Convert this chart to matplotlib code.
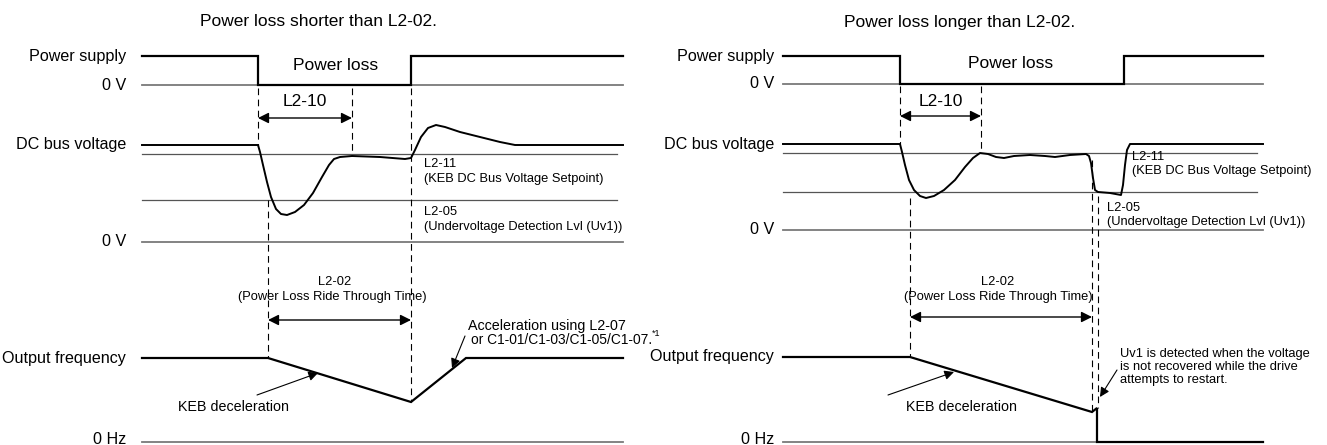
import matplotlib.pyplot as plt

plt.rcParams['font.family'] = ['Liberation Sans', 'DejaVu Sans']

# ---- left panel: power loss shorter than L2-02 (pixel coords) ----
L_supply_x = [142, 258, 258, 411, 411, 623]
L_supply_y = [56, 56, 85, 85, 56, 56]
L_dc_x = [142, 258, 260, 263, 267, 271, 276, 281, 287, 295, 304, 313, 322, 329, 334, 340, 352,
          380, 405, 411, 415, 421, 428, 436, 445, 460, 480, 500, 515, 525, 623]
L_dc_y = [145, 145, 152, 165, 182, 197, 209, 214, 215, 212, 205, 193, 177, 165, 159, 157, 156,
          157, 159, 158, 150, 137, 128, 125, 127, 132, 137, 142, 145, 145, 145]
L_freq_x = [142, 268, 411, 466, 623]
L_freq_y = [358, 358, 402, 358, 358]
L_levels = {'zero_v': 85, 'setpoint': 154, 'uv': 200, 'dc_zero': 242, 'hz0': 442}
L_dashes = [(258, 88, 146), (268, 200, 358), (352, 88, 155), (411, 88, 402)]

# ---- right panel: power loss longer than L2-02 ----
R_supply_x = [783, 900, 900, 1124, 1124, 1263]
R_supply_y = [56, 56, 84, 84, 56, 56]
R_dc_x = [783, 900, 902, 905, 909, 914, 920, 926, 934, 944, 955, 965, 973, 980, 988, 996, 1004,
          1014, 1030, 1045, 1055, 1070, 1086, 1089, 1091, 1093, 1095, 1098, 1110, 1121, 1123,
          1125, 1127, 1130, 1263]
R_dc_y = [144, 144, 152, 165, 180, 190, 196, 198, 196, 190, 180, 167, 158, 153, 154, 157, 158,
          156, 155, 156, 157, 155, 154, 156, 163, 178, 190, 192, 193, 195, 185,
          165, 150, 144, 144]
R_freq_x = [783, 910, 1092, 1097, 1097, 1263]
R_freq_y = [357, 357, 412, 408, 442, 442]
R_levels = {'zero_v': 84, 'setpoint': 153, 'uv': 192, 'dc_zero': 230, 'hz0': 442}
R_dashes = [(900, 86, 144), (910, 198, 357), (981, 86, 153), (1092, 160, 412), (1098, 196, 408)]

fig = plt.figure(figsize=(13.27, 4.45), dpi=100)
ax = fig.add_axes([0, 0, 1, 1])
ax.set_xlim(0, 1327)
ax.set_ylim(445, 0)
ax.axis('off')

HEAD = 12.5
BIG = 11.6
MID = 10.3
SMALL = 9.3
grey = '#7a7a7a'


def darrow(x0, x1, y):
    ax.annotate('', xy=(x1, y), xytext=(x0, y),
                arrowprops=dict(arrowstyle='<|-|>', color='k', lw=1.0, mutation_scale=16,
                                shrinkA=0, shrinkB=0))


def pointer(tail, tip):
    ax.annotate('', xy=tip, xytext=tail,
                arrowprops=dict(arrowstyle='-|>', color='k', lw=0.8, mutation_scale=14,
                                shrinkA=0, shrinkB=0))


def panel(x0, x1, lab_r, sup_x, sup_y, dc_x, dc_y, fr_x, fr_y, lv, dashes):
    # baselines
    for key in ['zero_v', 'dc_zero', 'hz0']:
        ax.plot([x0, x1], [lv[key], lv[key]], color=grey, lw=1.3)
    for key in ['setpoint', 'uv']:
        ax.plot([x0, x1 - 6], [lv[key], lv[key]], color='#555555', lw=0.9)
    # signals
    ax.plot(sup_x, sup_y, color='k', lw=1.6, solid_joinstyle='miter')
    ax.plot(dc_x, dc_y, color='k', lw=1.4, solid_joinstyle='round')
    ax.plot(fr_x, fr_y, color='k', lw=1.6, solid_joinstyle='miter')
    for x, ya, yb in dashes:
        ax.plot([x, x], [ya, yb], color='k', lw=0.8, linestyle=(0, (6, 4)))
    # left labels
    ax.text(lab_r, sup_y[0], 'Power supply', ha='right', va='center', fontsize=BIG)
    ax.text(lab_r, lv['zero_v'], '0 V', ha='right', va='center', fontsize=BIG)
    ax.text(lab_r, dc_y[0], 'DC bus voltage', ha='right', va='center', fontsize=BIG)
    ax.text(lab_r, lv['dc_zero'], '0 V', ha='right', va='center', fontsize=BIG)
    ax.text(lab_r, fr_y[0], 'Output frequency', ha='right', va='center', fontsize=BIG)
    ax.text(lab_r, lv['hz0'] - 3, '0 Hz', ha='right', va='center', fontsize=BIG)


panel(142, 623, 126, L_supply_x, L_supply_y, L_dc_x, L_dc_y, L_freq_x, L_freq_y, L_levels, L_dashes)
panel(783, 1263, 774, R_supply_x, R_supply_y, R_dc_x, R_dc_y, R_freq_x, R_freq_y, R_levels, R_dashes)

# left annotations
ax.text(319, 22, 'Power loss shorter than L2-02.', ha='center', va='center', fontsize=HEAD)
ax.text(336, 65, 'Power loss', ha='center', va='center', fontsize=HEAD)
ax.text(305, 102, 'L2-10', ha='center', va='center', fontsize=HEAD)
darrow(258, 352, 118)
ax.text(424, 164, 'L2-11', ha='left', va='center', fontsize=SMALL)
ax.text(424, 179, '(KEB DC Bus Voltage Setpoint)', ha='left', va='center', fontsize=SMALL)
ax.text(424, 212, 'L2-05', ha='left', va='center', fontsize=SMALL)
ax.text(424, 227, '(Undervoltage Detection Lvl (Uv1))', ha='left', va='center', fontsize=SMALL)
ax.text(335, 282, 'L2-02', ha='center', va='center', fontsize=SMALL)
ax.text(332, 297, '(Power Loss Ride Through Time)', ha='center', va='center', fontsize=SMALL)
darrow(268, 411, 320)
ax.text(468, 326, 'Acceleration using L2-07', ha='left', va='center', fontsize=MID)
ax.text(471, 340, 'or C1-01/C1-03/C1-05/C1-07.', ha='left', va='center', fontsize=9.9)
ax.text(652, 333, '*1', ha='left', va='center', fontsize=6.5)
pointer((465, 336), (452, 368))
ax.text(234, 407, 'KEB deceleration', ha='center', va='center', fontsize=MID)
pointer((257, 395), (318, 373))

# right annotations
ax.text(960, 22, 'Power loss longer than L2-02.', ha='center', va='center', fontsize=HEAD)
ax.text(1011, 64, 'Power loss', ha='center', va='center', fontsize=HEAD)
ax.text(941, 102, 'L2-10', ha='center', va='center', fontsize=HEAD)
darrow(900, 981, 116)
ax.text(1132, 157, 'L2-11', ha='left', va='center', fontsize=SMALL)
ax.text(1132, 171, '(KEB DC Bus Voltage Setpoint)', ha='left', va='center', fontsize=SMALL)
ax.text(1107, 208, 'L2-05', ha='left', va='center', fontsize=SMALL)
ax.text(1107, 222, '(Undervoltage Detection Lvl (Uv1))', ha='left', va='center', fontsize=SMALL)
ax.text(998, 282, 'L2-02', ha='center', va='center', fontsize=SMALL)
ax.text(998, 297, '(Power Loss Ride Through Time)', ha='center', va='center', fontsize=SMALL)
darrow(910, 1092, 317)
ax.text(1120, 354, 'Uv1 is detected when the voltage', ha='left', va='center', fontsize=SMALL)
ax.text(1120, 367, 'is not recovered while the drive', ha='left', va='center', fontsize=SMALL)
ax.text(1120, 380, 'attempts to restart.', ha='left', va='center', fontsize=SMALL)
pointer((1117, 370), (1100, 397))
ax.text(961, 407, 'KEB deceleration', ha='center', va='center', fontsize=MID)
pointer((888, 395), (954, 372))

fig.savefig('out.png', dpi=100)
